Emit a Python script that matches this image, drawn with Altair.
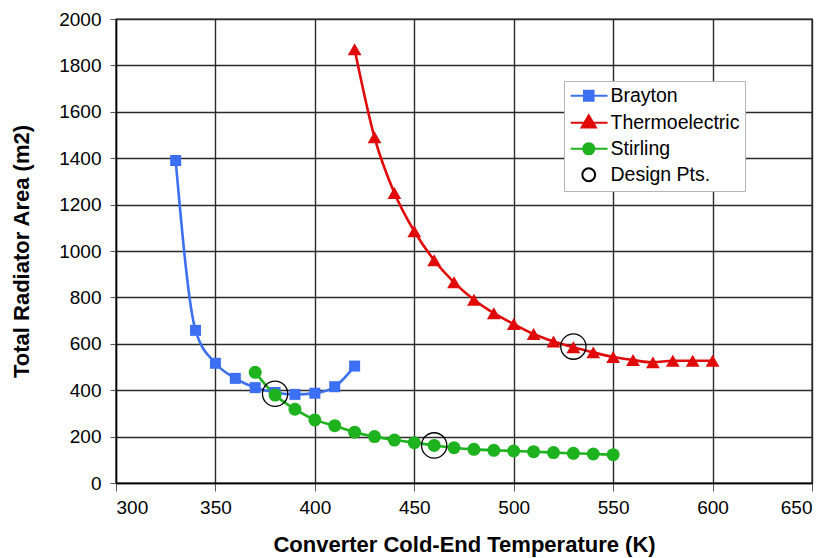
import altair as alt
import pandas as pd

# ---------------- data ----------------
series_names = ["Brayton", "Thermoelectric", "Stirling", "Design Pts."]

brayton_T = [330, 340, 350, 360, 370, 380, 390, 400, 410, 420]
brayton_A = [1390, 658, 516, 451, 411, 390, 382, 387, 415, 504]

thermo_T = [420, 430, 440, 450, 460, 470, 480, 490, 500, 510,
            520, 530, 540, 550, 560, 570, 580, 590, 600]
thermo_A = [1870, 1490, 1250, 1085, 960, 865, 790, 732, 685, 642,
            610, 585, 563, 543, 530, 520, 527, 527, 527]

stirling_T = [370, 380, 390, 400, 410, 420, 430, 440, 450, 460,
              470, 480, 490, 500, 510, 520, 530, 540, 550]
stirling_A = [477, 379, 318, 272, 247, 219, 200, 185, 174, 162,
              152, 145, 141, 138, 135, 131, 128, 125, 122]

design_T = [380, 460, 530]
design_A = [385, 162, 588]

x_ticks = [300, 350, 400, 450, 500, 550, 600, 650]
y_ticks = [0, 200, 400, 600, 800, 1000, 1200, 1400, 1600, 1800, 2000]

# ---------------- styling ----------------
BLUE = "#3d6ff2"
RED = "#e00a0a"
GREEN = "#1fb21f"
FONT = "Liberation Sans"

rows = []
for name, ts, vals in [("Brayton", brayton_T, brayton_A),
                       ("Thermoelectric", thermo_T, thermo_A),
                       ("Stirling", stirling_T, stirling_A)]:
    for t, a in zip(ts, vals):
        rows.append({"series": name, "T": t, "A": a})
df = pd.DataFrame(rows)
design_df = pd.DataFrame({"series": "Design Pts.", "T": design_T, "A": design_A})

x_enc = alt.X("T:Q", scale=alt.Scale(domain=[300, 650], nice=False),
              axis=alt.Axis(values=x_ticks, format="d",
                            title="Converter Cold-End Temperature (K)",
                            tickSize=8, labelPadding=7, titlePadding=17))
y_enc = alt.Y("A:Q", scale=alt.Scale(domain=[0, 2000], nice=False),
              axis=alt.Axis(values=y_ticks, format="d",
                            title="Total Radiator Area (m2)",
                            tickSize=6, labelPadding=9, titlePadding=25))

color_scale = alt.Scale(domain=series_names[:3], range=[BLUE, RED, GREEN])

lines = alt.Chart(df).mark_line(interpolate="monotone", strokeWidth=2.6).encode(
    x=x_enc, y=y_enc,
    color=alt.Color("series:N", scale=color_scale, legend=None),
)

def pts(name, shape, size):
    return alt.Chart(df).transform_filter(alt.datum.series == name).mark_point(
        shape=shape, size=size, filled=True, opacity=1
    ).encode(x=x_enc, y=y_enc,
             color=alt.Color("series:N", scale=color_scale, legend=None))

design = alt.Chart(design_df).mark_point(
    shape="circle", size=640, filled=False, stroke="black", strokeWidth=1.3, opacity=1
).encode(x=x_enc, y=y_enc)

# legend glyphs: a line segment with the marker in its middle
sq = "M-1,0H3.6M0.65,-0.62H1.85V0.62H0.65Z"
tri = "M-1,0H3.6M1.25,-0.95L2.15,0.6H0.35Z"
cir = "M-1,0H3.6M0.55,0A0.7,0.7 0 1,1 1.95,0A0.7,0.7 0 1,1 0.55,0Z"
dcir = "M0.45,0A0.8,0.8 0 1,1 2.05,0A0.8,0.8 0 1,1 0.45,0Z"

legend = alt.Legend(
    title=None, orient="none", legendX=448, legendY=62,
    padding=5, strokeColor="#b5b5b5", fillColor="white",
    labelFont=FONT, labelFontSize=19.5, labelColor="black",
    symbolSize=256, symbolStrokeWidth=2, labelOffset=22, rowPadding=5,
    symbolOpacity=1,
)
legend_layer = alt.Chart(pd.concat([df, design_df])).transform_filter(
    alt.datum.T < 0
).mark_point(filled=True).encode(
    x=x_enc, y=y_enc,
    shape=alt.Shape("series:N", scale=alt.Scale(domain=series_names, range=[sq, tri, cir, dcir]),
                    legend=legend),
    fill=alt.Fill("series:N", scale=alt.Scale(domain=series_names, range=[BLUE, RED, GREEN, "white"]),
                  legend=legend),
    stroke=alt.Stroke("series:N", scale=alt.Scale(domain=series_names, range=[BLUE, RED, GREEN, "black"]),
                      legend=legend),
)

chart = alt.layer(
    lines,
    pts("Brayton", "square", 121),
    pts("Thermoelectric", "triangle-up", 190),
    pts("Stirling", "circle", 169),
    design,
    legend_layer,
).properties(
    width=696, height=464,
    background="white",
    autosize=alt.AutoSizeParams(type="none"),
    padding={"left": 108, "top": 11, "right": 6, "bottom": 75},
).configure_view(
    stroke="#2a2a2a", strokeWidth=1.4
).configure_axis(
    labelFont=FONT, labelFontSize=19, labelColor="black",
    titleFont=FONT, titleFontSize=22, titleFontWeight="bold", titleColor="black",
    gridColor="#2a2a2a", gridWidth=1.4, gridOpacity=1,
    domainColor="black", domainWidth=1.4,
    tickColor="#555", tickWidth=1,
)

chart.save("out.html", embed_options={"renderer": "svg", "actions": False})
